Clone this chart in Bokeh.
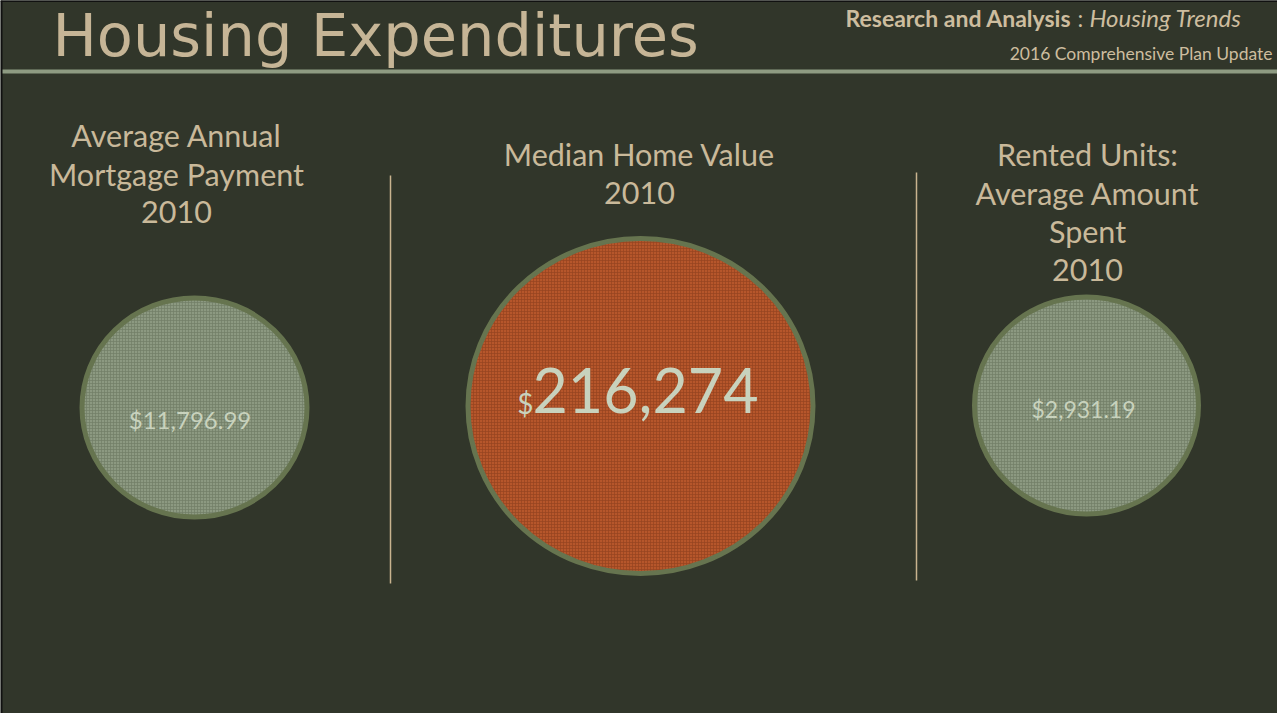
from bokeh.plotting import figure
from bokeh.models import ColumnDataSource, Span, Range1d
from bokeh.core.properties import value
from bokeh.embed import file_html
from bokeh.resources import INLINE

# ---------------- data ----------------
page_title = "Housing Expenditures"
header_bold = "Research and Analysis"
header_italic = "Housing Trends"
subheader = "2016 Comprehensive Plan Update"

panel_titles = [
    ["Average Annual", "Mortgage Payment", "2010"],
    ["Median Home Value", "2010"],
    ["Rented Units:", "Average Amount", "Spent", "2010"],
]
amounts = [11796.99, 216274, 2931.19]
amount_labels = ["$11,796.99", "$216,274", "$2,931.19"]
highlight = [False, True, False]

# ---------------- style / layout ----------------
W, H = 1277, 713
BG = "#31362a"
TAN = "#c9b99a"
SAGE_LINE = "#8e9b82"
RING = "#66744f"
LIGHT = "#c8d2bd"
FILL_NORMAL = "#8c9981"
HATCH_NORMAL = "#717e67"
FILL_HI = "#b6562b"
HATCH_HI = "#95431f"
FONT = "Lato"
K = 0.40  # baseline correction factor (fraction of font size)


def base(y, size):
    return y - K * size


panel_cx = [194, 640, 1086]          # circle centres (px)
title_cx = [176, 639, 1087]          # title centres (px)
title_top = [147, 166, 166]          # first baseline (px)
title_step = 38.5
title_size = 30.5
circle_cy = [407, 405.5, 405]
circle_w = [225, 345, 224]
circle_h = [219, 335, 217]
label_dx = [-4.5, 5, -3]
label_base = [429, 414, 418]
label_size = [24, 61, 23]

p = figure(width=W, height=H, x_range=Range1d(0, W), y_range=Range1d(H, 0),
           output_backend="svg", toolbar_location=None, min_border=0,
           x_axis_location=None, y_axis_location=None,
           background_fill_color=BG, border_fill_color=BG)
p.grid.visible = False
p.outline_line_color = None

# header rule
p.add_layout(Span(location=71, dimension="width", line_color=SAGE_LINE, line_width=4))

# page title
p.text(x=[52], y=[base(59, 59)], text=[page_title], text_font=value("DejaVu Sans"),
       text_font_size="59px", text_color="#c6b596", text_baseline="alphabetic",
       text_align="left")

# header right
p.text(x=[845], y=[base(27, 23)], text=[header_bold], text_font=value(FONT),
       text_font_style="bold", text_font_size="23px", text_color="#cdbd9f",
       text_baseline="alphabetic", text_align="left")
p.text(x=[1077], y=[base(27, 23)], text=[":"], text_font=value(FONT),
       text_font_size="23px", text_color="#cdbd9f",
       text_baseline="alphabetic", text_align="left")
p.text(x=[1241], y=[base(27, 24)], text=[header_italic], text_font=value(FONT),
       text_font_style="italic", text_font_size="24px", text_color="#cdbd9f",
       text_baseline="alphabetic", text_align="right")
p.text(x=[1272], y=[base(60, 17.5)], text=[subheader], text_font=value(FONT),
       text_font_size="17.5px", text_color="#cdbd9f",
       text_baseline="alphabetic", text_align="right")

# panel titles
tx, ty, tt = [], [], []
for i, lines in enumerate(panel_titles):
    for j, line in enumerate(lines):
        tx.append(title_cx[i])
        ty.append(base(title_top[i] + j * title_step, title_size))
        tt.append(line)
p.text(x="x", y="y", text="t", source=ColumnDataSource(dict(x=tx, y=ty, t=tt)),
       text_font=value(FONT), text_font_size=f"{title_size}px", text_color=TAN,
       text_baseline="alphabetic", text_align="center")

# separators
p.segment(x0=[390, 916], y0=[175, 172], x1=[390, 916], y1=[583, 580],
          line_color="#c9b48f", line_width=1.5)

# circles
cs = ColumnDataSource(dict(
    x=panel_cx, y=circle_cy, w=circle_w, h=circle_h, amount=amounts,
    fill=[FILL_HI if h else FILL_NORMAL for h in highlight],
    hatch=[HATCH_HI if h else HATCH_NORMAL for h in highlight],
))
p.ellipse(x="x", y="y", width="w", height="h", source=cs,
          fill_color="fill", line_color=RING, line_width=5,
          hatch_pattern="+", hatch_color="hatch", hatch_scale=3,
          hatch_weight=1, hatch_alpha=0.7)

# value labels
for i, lab in enumerate(amount_labels):
    sz = label_size[i]
    if highlight[i]:
        p.text(x=[panel_cx[i] + label_dx[i] - 112], y=[base(label_base[i], 28)], text=[lab[0]],
               text_font=value(FONT), text_font_size="28px", text_color=LIGHT,
               text_baseline="alphabetic", text_align="right")
        p.text(x=[panel_cx[i] + label_dx[i]], y=[base(label_base[i], sz)], text=[lab[1:]],
               text_font=value(FONT), text_font_size=f"{sz}px", text_color=LIGHT,
               text_baseline="alphabetic", text_align="center")
    else:
        p.text(x=[panel_cx[i] + label_dx[i]], y=[base(label_base[i], sz)], text=[lab],
               text_font=value(FONT), text_font_size=f"{sz}px", text_color=LIGHT,
               text_baseline="alphabetic", text_align="center")

# outer border (left and top)
p.add_layout(Span(location=1, dimension="height", line_color="#111111", line_width=2))
p.add_layout(Span(location=0.5, dimension="width", line_color="#111111", line_width=2))

open("out.html", "w").write(file_html(p, INLINE))
